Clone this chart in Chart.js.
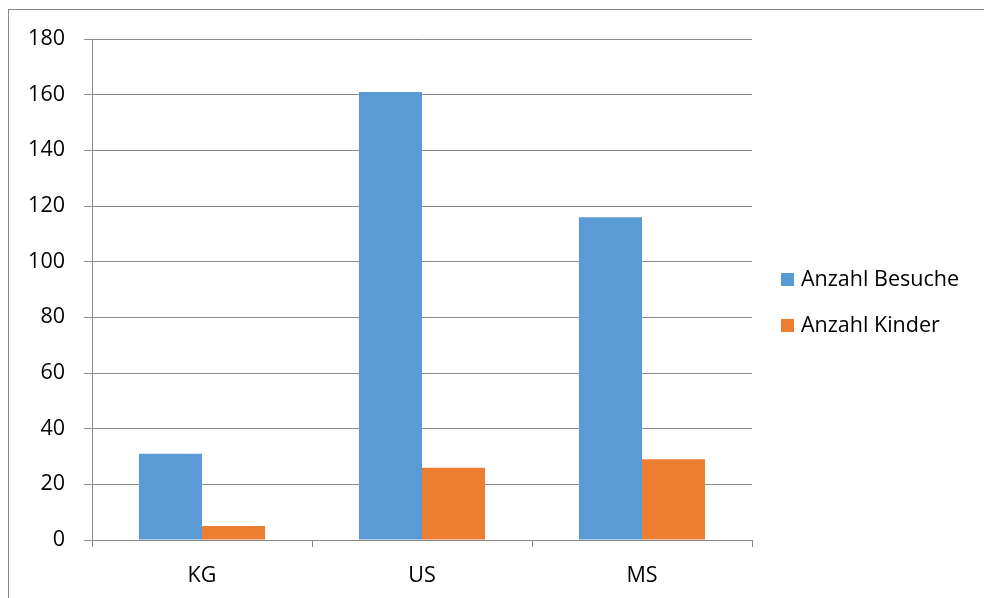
<!DOCTYPE html>
<html><head><meta charset="utf-8">
<script src="https://cdn.jsdelivr.net/npm/chart.js@4.4.0/dist/chart.umd.min.js"></script>
<style>
html,body{margin:0;padding:0;background:#fff;overflow:hidden;}
#wrap{position:relative;width:984px;height:598px;}
#frame{position:absolute;left:8px;top:9px;width:1000px;height:620px;border:1px solid #8a8a8a;box-sizing:border-box;}
#c{position:absolute;left:0;top:0;}
.leg{position:absolute;left:781px;font-family:"Open Sans",sans-serif;font-size:21.5px;color:#000;line-height:22px;white-space:nowrap;}
.leg i{display:inline-block;width:13px;height:13px;margin-right:7px;vertical-align:0px;}
</style></head>
<body><div id="wrap"><div id="frame"></div><canvas id="c" width="984" height="598"></canvas>
<div class="leg" id="l0" style="top:267px"><i></i><span></span></div>
<div class="leg" id="l1" style="top:313px"><i></i><span></span></div>
</div>
<script>
const categories = ["KG", "US", "MS"];
const seriesNames = ["Anzahl Besuche", "Anzahl Kinder"];
const besuche = [31, 161, 116];
const kinder = [5, 26, 29];
const colors = ["#5B9BD5", "#ED7D31"];
const yMin = 0, yMax = 180, yStep = 20;

[0,1].forEach(i=>{
  const el=document.getElementById('l'+i);
  el.querySelector('i').style.background=colors[i];
  el.querySelector('span').textContent=seriesNames[i];
});

const FONT = {family:"'Open Sans', sans-serif", size:21.5};
new Chart(document.getElementById('c'), {
  type:'bar',
  data:{labels:categories, datasets:[
    {label:seriesNames[0], data:besuche, backgroundColor:colors[0], borderWidth:0},
    {label:seriesNames[1], data:kinder, backgroundColor:colors[1], borderWidth:0}
  ]},
  options:{
    responsive:false, animation:false, devicePixelRatio:1,
    layout:{padding:{left:0,top:39,right:232,bottom:0}},
    plugins:{legend:{display:false}, tooltip:{enabled:false}},
    datasets:{bar:{categoryPercentage:0.573, barPercentage:1}},
    scales:{
      x:{
        grid:{display:true, drawOnChartArea:false, drawTicks:true, tickLength:7, color:'#8a8a8a', offset:true},
        border:{color:'#8a8a8a', width:1},
        ticks:{color:'#000', font:FONT, padding:16},
        afterFit(s){ s.height = 58; }
      },
      y:{
        min:yMin, max:yMax,
        ticks:{stepSize:yStep, color:'#000', font:FONT, padding:19},
        grid:{color:'#8a8a8a', tickLength:8, drawTicks:true},
        border:{color:'#8a8a8a', width:1},
        afterFit(s){ s.width = 92; }
      }
    }
  }
});
</script></body></html>
